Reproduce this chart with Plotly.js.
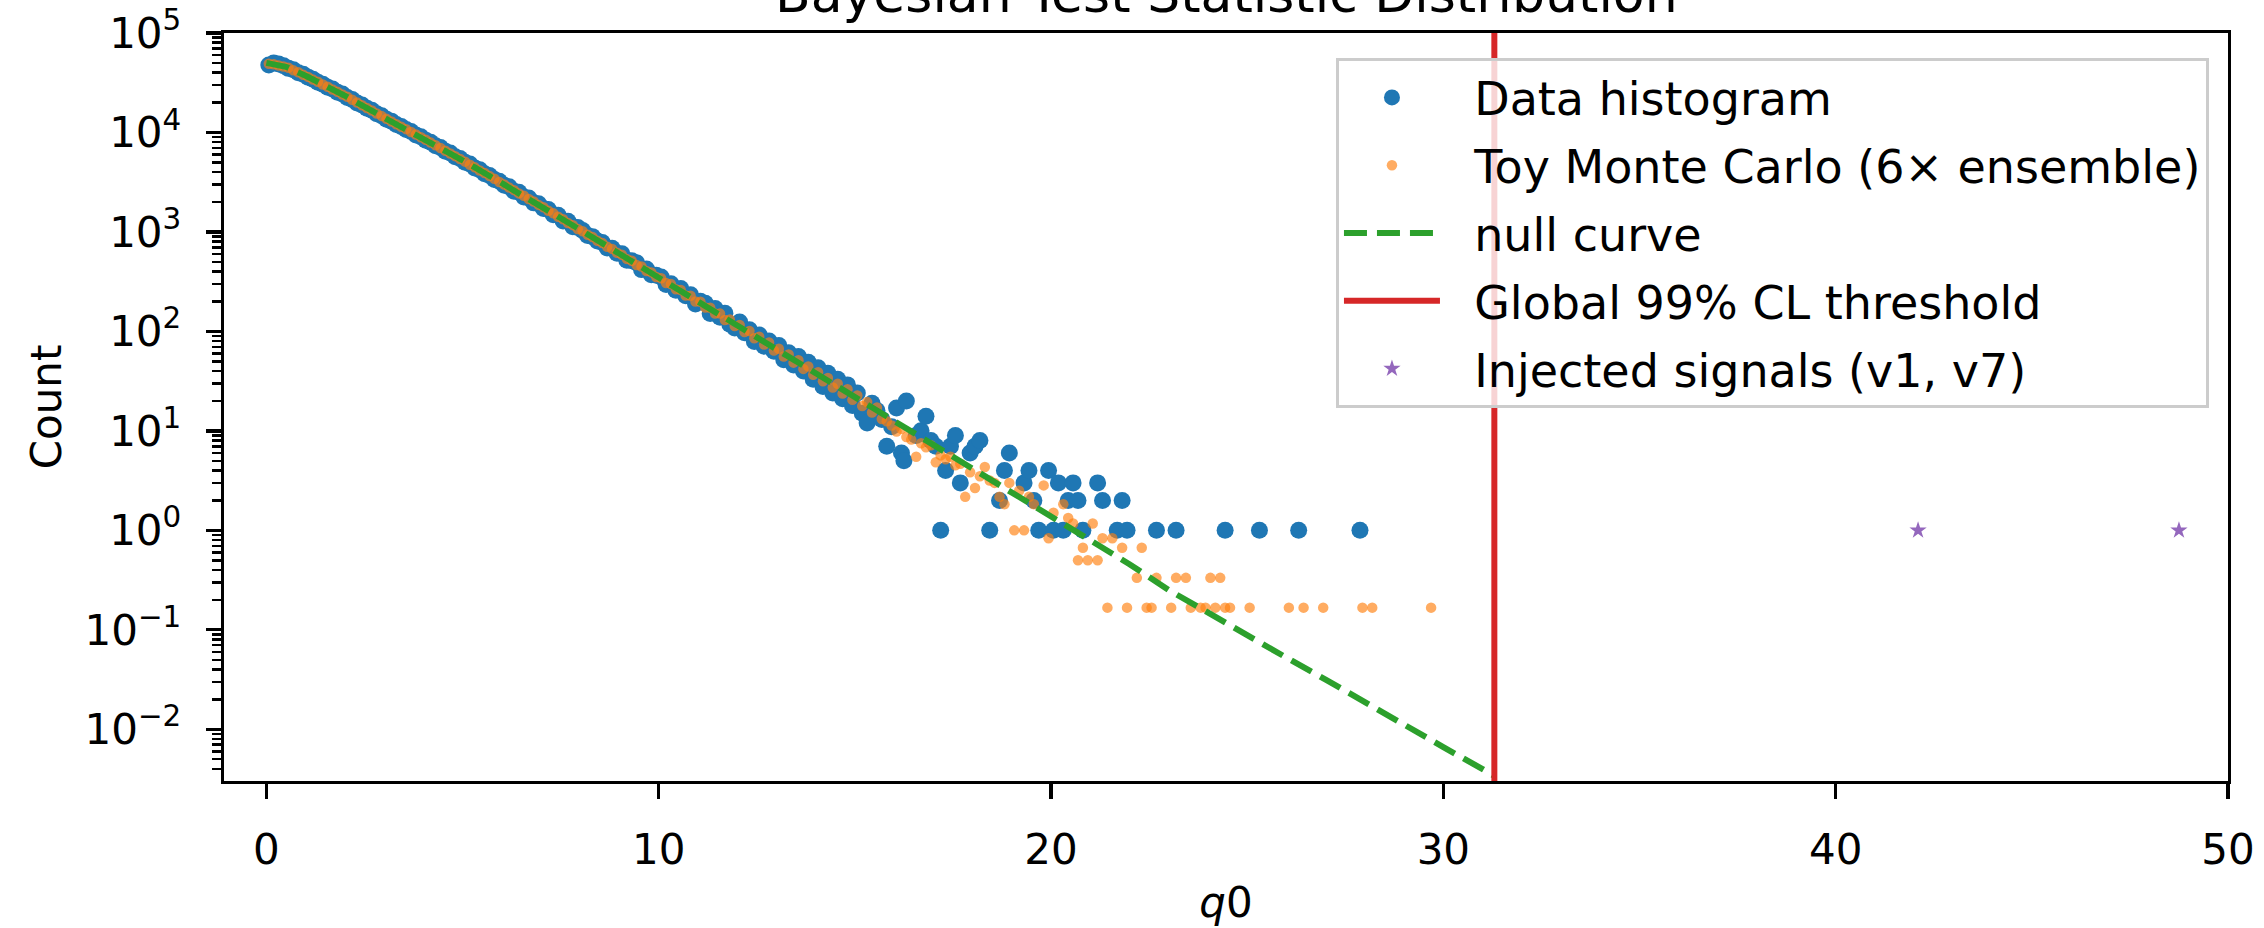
<!DOCTYPE html>
<html>
<head>
<meta charset="utf-8">
<script src="https://cdn.plot.ly/plotly-3.0.1.min.js"></script>
<style>
  html, body { margin: 0; padding: 0; background: #ffffff; }
  #chart { width: 2264px; height: 928px; }
</style>
</head>
<body>
<div id="chart"></div>
<script>
// ---------------- data ----------------
const chartTitle = "Bayesian Test Statistic Distribution";
const xLabel = "<i>q</i>0";
const yLabel = "Count";

// Data histogram (bin centres, counts)
const dataQ = [
  0.0625, 0.1875, 0.3125, 0.4375, 0.5625, 0.6875, 0.8125, 0.9375, 1.0625, 1.1875,
  1.3125, 1.4375, 1.5625, 1.6875, 1.8125, 1.9375, 2.0625, 2.1875, 2.3125, 2.4375,
  2.5625, 2.6875, 2.8125, 2.9375, 3.0625, 3.1875, 3.3125, 3.4375, 3.5625, 3.6875,
  3.8125, 3.9375, 4.0625, 4.1875, 4.3125, 4.4375, 4.5625, 4.6875, 4.8125, 4.9375,
  5.0625, 5.1875, 5.3125, 5.4375, 5.5625, 5.6875, 5.8125, 5.9375, 6.0625, 6.1875,
  6.3125, 6.4375, 6.5625, 6.6875, 6.8125, 6.9375, 7.0625, 7.1875, 7.3125, 7.4375,
  7.5625, 7.6875, 7.8125, 7.9375,
  8.0625, 8.1875, 8.3125, 8.4375, 8.5625, 8.6875, 8.8125, 8.9375, 9.0625, 9.1875,
  9.3125, 9.4375, 9.5625, 9.6875, 9.8125, 9.9375, 10.0625, 10.1875, 10.3125, 10.4375,
  10.5625, 10.6875, 10.8125, 10.9375, 11.0625, 11.1875, 11.3125, 11.4375, 11.5625, 11.6875,
  11.8125, 11.9375, 12.0625, 12.1875, 12.3125, 12.4375, 12.5625, 12.6875, 12.8125, 12.9375,
  13.0625, 13.1875, 13.3125, 13.4375, 13.5625, 13.6875, 13.8125, 13.9375, 14.0625, 14.1875,
  14.3125, 14.4375, 14.5625, 14.6875, 14.8125, 14.9375, 15.0625, 15.1875,
  15.3125, 15.4375, 15.5625, 15.6875, 15.8125, 15.9375, 16.0625, 16.1875, 16.25, 16.3125,
  16.5625, 16.6875, 16.8125, 16.9375, 17.0625, 17.1875, 17.3125, 17.4375, 17.5625, 17.6875,
  17.9375, 18.0625, 18.1875, 18.4375, 18.6875, 18.8125, 18.9375, 19.3125, 19.4375, 19.5625,
  19.6875, 19.9375, 20.0625, 20.1875, 20.3125, 20.4375, 20.5625, 20.6875, 20.8125, 21.1875,
  21.3125, 21.6875, 21.8125, 21.9375, 22.6875, 23.1875, 24.4375, 25.3125, 26.3125, 27.875
];
const dataCount = [
  47600, 49800, 48900, 46900, 44100, 42600, 39900, 38400, 36000, 34300,
  32000, 30600, 28500, 27300, 25400, 24300, 22500, 21500, 19800, 18900,
  17500, 16700, 15400, 14700, 13600, 13000, 12000, 11500, 10700, 10200,
  9440, 9050, 8350, 7990, 7360, 7050, 6480, 6220, 5700, 5480,
  5020, 4810, 4390, 4220, 3840, 3700, 3360, 3240, 2940, 2850,
  2570, 2500, 2250, 2190, 1960, 1920, 1720, 1680, 1490, 1470,
  1290, 1280, 1130, 1110,
  1032, 921, 897, 810, 781, 690, 685, 611, 604, 520,
  512, 489, 418, 425, 371, 366, 352, 296, 301, 259,
  270, 228, 233, 189, 201, 192, 151, 170, 139, 152,
  118, 108, 124, 97, 104, 79, 92, 71, 80, 63,
  72, 52, 61, 46, 56, 40, 49, 33, 43, 28,
  38, 24, 33, 21, 29, 18, 24, 15,
  12, 19, 16, 13, 7, 11, 17, 6, 5, 20,
  9, 10, 14, 8, 7, 1, 4, 7, 9, 3,
  6, 7, 8, 1, 2, 4, 6, 3, 4, 2,
  1, 4, 1, 3, 1, 2, 3, 2, 1, 3,
  2, 1, 2, 1, 1, 1, 1, 1, 1, 1
];

// Toy Monte Carlo (6x ensemble, averaged)
const toyQ = [
  0.0625, 0.1875, 0.3125, 0.4375, 0.5625, 0.6875, 0.8125, 0.9375, 1.0625, 1.1875,
  1.3125, 1.4375, 1.5625, 1.6875, 1.8125, 1.9375, 2.0625, 2.1875, 2.3125, 2.4375,
  2.5625, 2.6875, 2.8125, 2.9375, 3.0625, 3.1875, 3.3125, 3.4375, 3.5625, 3.6875,
  3.8125, 3.9375, 4.0625, 4.1875, 4.3125, 4.4375, 4.5625, 4.6875, 4.8125, 4.9375,
  5.0625, 5.1875, 5.3125, 5.4375, 5.5625, 5.6875, 5.8125, 5.9375, 6.0625, 6.1875,
  6.3125, 6.4375, 6.5625, 6.6875, 6.8125, 6.9375, 7.0625, 7.1875, 7.3125, 7.4375,
  7.5625, 7.6875, 7.8125, 7.9375,
  8.0625, 8.1875, 8.3125, 8.4375, 8.5625, 8.6875, 8.8125, 8.9375, 9.0625, 9.1875,
  9.3125, 9.4375, 9.5625, 9.6875, 9.8125, 9.9375, 10.0625, 10.1875, 10.3125, 10.4375,
  10.5625, 10.6875, 10.8125, 10.9375, 11.0625, 11.1875, 11.3125, 11.4375, 11.5625, 11.6875,
  11.8125, 11.9375, 12.0625, 12.1875, 12.3125, 12.4375, 12.5625, 12.6875, 12.8125, 12.9375,
  13.0625, 13.1875, 13.3125, 13.4375, 13.5625, 13.6875, 13.8125, 13.9375, 14.0625, 14.1875,
  14.3125, 14.4375, 14.5625, 14.6875, 14.8125, 14.9375, 15.0625, 15.1875,
  15.3125, 15.4375, 15.5625, 15.6875, 15.8125, 15.9375, 16.0625, 16.1875, 16.3125, 16.4375,
  16.5625, 16.6875, 16.8125, 16.9375, 17.0625, 17.1875, 17.3125, 17.4375, 17.5625, 17.6875,
  17.8125, 17.9375, 18.0625, 18.1875, 18.3125, 18.4375, 18.5625, 18.6875, 18.8125, 18.9375,
  19.0625, 19.1875, 19.3125, 19.4375, 19.5625, 19.8125, 19.9375, 20.0625, 20.3125, 20.4375,
  20.5625, 20.6875, 20.8125, 20.9375, 21.0625, 21.1875, 21.3125, 21.4375, 21.5625, 21.8125,
  21.9375, 22.1875, 22.3125, 22.4375, 22.5625, 22.6875, 23.0625, 23.1875, 23.4375, 23.5625,
  23.8125, 23.9375, 24.0625, 24.1875, 24.3125, 24.4375, 24.5625, 25.0625, 26.0625, 26.4375,
  26.9375, 27.9375, 28.1875, 29.6875
];
const toyCount = [
  49100, 48600, 47200, 46100, 44700, 42100, 40300, 38000, 36200, 34000,
  32300, 30300, 28800, 27000, 25600, 24100, 22800, 21300, 20000, 18800,
  17600, 16600, 15500, 14600, 13700, 12900, 12100, 11400, 10800, 10100,
  9540, 8960, 8440, 7910, 7440, 6970, 6560, 6140, 5780, 5410,
  5090, 4740, 4460, 4150, 3910, 3640, 3420, 3180, 3000, 2790,
  2630, 2440, 2310, 2140, 2020, 1870, 1770, 1630, 1540, 1420,
  1340, 1230, 1170, 1070,
  1015, 938, 888, 815, 774, 709, 675, 617, 589, 536,
  514, 466, 449, 405, 392, 352, 342, 306, 299, 265,
  261, 230, 228, 200, 199, 174, 173, 151, 151, 130,
  132, 113, 116, 98.5, 101, 85.3, 88.2, 73.8, 77.2, 64.3,
  67.0, 55.8, 58.7, 48.5, 51.2, 42.0, 44.5, 36.7, 38.8, 31.5,
  34.0, 27.3, 29.8, 23.7, 26.2, 20.5, 22.7, 17.8,
  19.5, 15.33, 17.17, 13.17, 12.5, 11.33, 9.83, 10.5, 8.67, 8.17,
  5.5, 7.5, 6.83, 7.17, 4.83, 5.67, 5.17, 5.5, 4.5, 4.67,
  2.17, 3.83, 2.67, 3.5, 4.33, 3.17, 3.0, 2.17, 1.83, 3.0,
  1.0, 2.5, 1.0, 2.17, 1.83, 2.83, 0.833, 1.5, 1.83, 1.33,
  1.17, 0.5, 0.667, 0.5, 1.17, 0.5, 0.833, 0.167, 0.833, 0.667,
  0.167, 0.333, 0.667, 0.167, 0.167, 0.333, 0.167, 0.333, 0.333, 0.167,
  0.167, 0.167, 0.333, 0.167, 0.333, 0.167, 0.167, 0.167, 0.167, 0.167,
  0.167, 0.167, 0.167, 0.167
];

// Null curve
const nullQ = [0, 0.5, 1, 1.5, 2, 3, 4, 5, 6, 7, 8, 9, 10, 11, 12, 13, 14, 15, 16, 17,
               18, 19, 20, 21, 22, 23, 24, 25, 26, 27, 28, 29, 30, 31, 31.3];
const nullCount = [50100, 45700, 37200, 29500, 23400, 14100, 8710, 5250, 3090, 1820,
                   1050, 603, 347, 200, 115, 66.1, 38.0, 21.9, 12.6, 7.24,
                   4.17, 2.40, 1.38, 0.794, 0.457, 0.251, 0.148, 0.0891, 0.0525, 0.0316,
                   0.0186, 0.0112, 0.00661, 0.00398, 0.00339];

// Global 99% CL threshold
const thresholdQ = 31.3;

// Injected signals (v1, v7)
const signalQ = [42.1, 48.75];
const signalCount = [1, 1];

// Axis ticks
const xTickVals = [0, 10, 20, 30, 40, 50];
const yTickVals = [1e-2, 1e-1, 1e0, 1e1, 1e2, 1e3, 1e4, 1e5];
const yTickText = ["10<sup>\u22122</sup>", "10<sup>\u22121</sup>", "10<sup>0</sup>", "10<sup>1</sup>",
                   "10<sup>2</sup>", "10<sup>3</sup>", "10<sup>4</sup>", "10<sup>5</sup>"];
const legendNames = ["Data histogram", "Toy Monte Carlo (6\u00d7 ensemble)", "null curve",
                     "Global 99% CL threshold", "Injected signals (v1, v7)"];

// ---------------- styling ----------------
const FONT = "DejaVu Sans, Liberation Sans, sans-serif";
const FS = 42;
const LEG_FS = 46;
const PAD = "\u00a0\u00a0";

const minorVals = [];
for (let d = -3; d <= 4; d++) {
  for (let m = 2; m <= 9; m++) minorVals.push(m * Math.pow(10, d));
}

const traces = [
  {
    type: "scatter", mode: "markers", name: PAD + legendNames[0], legendgroup: "g1",
    x: dataQ, y: dataCount,
    marker: { color: "#1f77b4", size: 17, line: { width: 0 } }
  },
  {
    type: "scatter", mode: "markers", name: PAD + legendNames[1], legendgroup: "g2",
    x: toyQ, y: toyCount,
    marker: { color: "#ff7f0e", size: 10.5, opacity: 0.65, line: { width: 0 } }
  },
  {
    type: "scatter", mode: "lines", name: PAD + legendNames[2], legendgroup: "g3",
    x: nullQ, y: nullCount,
    line: { color: "#2ca02c", width: 6, dash: "23px,10px" }
  },
  {
    type: "scatter", mode: "lines", name: PAD + legendNames[3], legendgroup: "g4",
    x: [thresholdQ, thresholdQ], y: [1e-4, 1e7],
    line: { color: "#d62728", width: 6 }
  },
  {
    type: "scatter", mode: "markers", name: PAD + legendNames[4], legendgroup: "g5",
    x: signalQ, y: signalCount,
    marker: { color: "#9467bd", size: 13, symbol: "star", line: { width: 0 } }
  }
];

const layout = {
  width: 2264, height: 928,
  margin: { l: 224, r: 36, t: 33, b: 147, pad: 0 },
  paper_bgcolor: "#ffffff", plot_bgcolor: "#ffffff",
  font: { family: FONT, size: FS, color: "#000000" },
  showlegend: true,
  xaxis: {
    range: [-1.08, 50],
    tickvals: xTickVals,
    ticks: "outside", ticklen: 15, tickwidth: 3.3, tickcolor: "#000000",
    showline: true, linecolor: "#000000", linewidth: 3.3, mirror: true,
    showgrid: false, zeroline: false,
    tickfont: { family: FONT, size: FS, color: "#000000" },
    ticklabelstandoff: 14,
    title: { text: xLabel, font: { family: FONT, size: FS, color: "#000000" }, standoff: 16 }
  },
  yaxis: {
    type: "log",
    range: [-2.52, 5],
    tickvals: yTickVals, ticktext: yTickText,
    ticks: "outside", ticklen: 15, tickwidth: 3.3, tickcolor: "#000000",
    minor: { tickvals: minorVals, ticks: "outside", ticklen: 8.5, tickwidth: 2.5, tickcolor: "#000000", showgrid: false },
    showline: true, linecolor: "#000000", linewidth: 3.3, mirror: true,
    showgrid: false, zeroline: false,
    tickfont: { family: FONT, size: FS, color: "#000000" },
    ticklabelstandoff: 16,
    title: { text: yLabel, font: { family: FONT, size: FS, color: "#000000" }, standoff: 10 }
  },
  legend: {
    x: 0.9905, xanchor: "right", y: 0.9666, yanchor: "top",
    bgcolor: "rgba(255,255,255,0.8)", bordercolor: "#cccccc", borderwidth: 3,
    font: { family: FONT, size: LEG_FS, color: "#000000" },
    traceorder: "grouped", tracegroupgap: 5, itemwidth: 96
  },
  annotations: [{
    text: chartTitle, xref: "paper", yref: "paper", x: 0.5, y: 1,
    xanchor: "center", yanchor: "bottom", yshift: 7, showarrow: false,
    font: { family: FONT, size: 52, color: "#000000" }
  }]
};

Plotly.newPlot("chart", traces, layout, { staticPlot: true, displayModeBar: false });
</script>
</body>
</html>
